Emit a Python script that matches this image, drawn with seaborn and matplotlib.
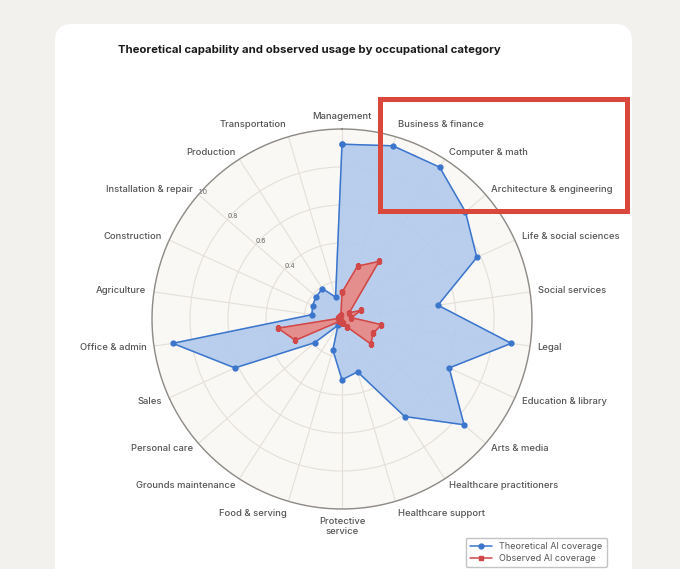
import numpy as np
import matplotlib
matplotlib.use("Agg")
import matplotlib.pyplot as plt
import seaborn as sns
from matplotlib.patches import FancyBboxPatch, Rectangle

# categories in clockwise order, starting at the top
categories = [
    "Management", "Business & finance", "Computer & math",
    "Architecture & engineering", "Life & social sciences", "Social services",
    "Legal", "Education & library", "Arts & media", "Healthcare practitioners",
    "Healthcare support", "Protective\nservice", "Food & serving",
    "Grounds maintenance", "Personal care", "Sales", "Office & admin",
    "Agriculture", "Construction", "Installation & repair", "Production",
    "Transportation",
]
theoretical = [0.92, 0.95, 0.95, 0.86, 0.78, 0.51, 0.90, 0.62, 0.85, 0.61, 0.29,
               0.32, 0.17, 0.04, 0.19, 0.62, 0.90, 0.16, 0.17, 0.18, 0.19, 0.12]
observed = [0.14, 0.29, 0.36, 0.05, 0.11, 0.05, 0.21, 0.18, 0.20, 0.05, 0.02,
            0.02, 0.01, 0.01, 0.02, 0.27, 0.34, 0.02, 0.01, 0.02, 0.02, 0.02]
r_ticks = [0.2, 0.4, 0.6, 0.8, 1.0]
r_tick_labels = ["", "0.4", "0.6", "0.8", "1.0"]

sns.set_theme(style="white")
plt.rcParams["font.family"] = ["Inter", "DejaVu Sans"]

blue = "#3b76cc"
red = "#d04848"

fig = plt.figure(figsize=(6.8, 5.69), dpi=100)
fig.patch.set_facecolor("#f3f1ee")
card = FancyBboxPatch((55 / 680, -0.05), 577 / 680, (569 - 24) / 569 + 0.05,
                      boxstyle="round,pad=0,rounding_size=0.025",
                      mutation_aspect=680 / 569,
                      transform=fig.transFigure, facecolor="white",
                      edgecolor="none", zorder=-5)
fig.add_artist(card)

ax = fig.add_axes([152 / 680, 60 / 569, 380 / 680, 380 / 569], projection="polar")
ax.set_facecolor("#faf8f5")
ax.set_theta_zero_location("N")
ax.set_theta_direction(-1)

n = len(categories)
angles = np.arange(n) * 2 * np.pi / n
a_closed = np.append(angles, angles[0])
t_closed = np.append(theoretical, theoretical[0])
o_closed = np.append(observed, observed[0])

ax.fill(a_closed, t_closed, color="#b2caec", alpha=0.9, zorder=2)
ax.plot(a_closed, t_closed, color=blue, lw=1.1, marker="o", ms=3.5,
        label="Theoretical AI coverage", zorder=3)
ax.fill(a_closed, o_closed, color="#ea8784", alpha=0.9, zorder=4)
ax.plot(a_closed, o_closed, color=red, lw=1.1, marker="s", ms=3.2,
        label="Observed AI coverage", zorder=5)

ax.set_ylim(0, 1.0)
ax.set_xticks(angles)
ax.set_xticklabels([])
ax.set_yticks(r_ticks)
ax.set_yticklabels(r_tick_labels, fontsize=5, color="#6b6b6b")
ax.set_rlabel_position(np.degrees(angles[19]))
ax.grid(color="#e4e0d9", lw=0.8)
ax.spines["polar"].set_color("#8e8b87")
ax.spines["polar"].set_linewidth(1.0)

for ang, name in zip(angles, categories):
    s, c = np.sin(ang), np.cos(ang)
    if abs(s) < 0.05:
        ha = "center"
    else:
        ha = "left" if s > 0 else "right"
    if c > 0.95:
        va = "bottom"
    elif c < -0.95:
        va = "top"
    else:
        va = "center"
    ax.text(ang, 1.04, name, ha=ha, va=va, fontsize=6.8, color="#555555",
            fontweight="medium", linespacing=1.2)

fig.text(309 / 680, 1 - 50 / 569,
         "Theoretical capability and observed usage by occupational category",
         ha="center", va="center", fontsize=8.2, fontweight="bold",
         color="#1b1b1b")

# highlight box drawn over the top-right labels
fig.add_artist(Rectangle((379.5 / 680, 1 - 210.5 / 569), 247 / 680, 112 / 569,
                         transform=fig.transFigure, fill=False,
                         edgecolor="#d9483b", lw=3.6, zorder=10))

fig.legend(loc="upper left", bbox_to_anchor=(461 / 680, 1 - 533 / 569),
           fontsize=6.5, frameon=True, edgecolor="#b5b5b5", fancybox=True,
           handlelength=2.4, borderpad=0.5, labelspacing=0.3,
           labelcolor="#555555")

fig.savefig("out.png", dpi=100, facecolor=fig.get_facecolor())
